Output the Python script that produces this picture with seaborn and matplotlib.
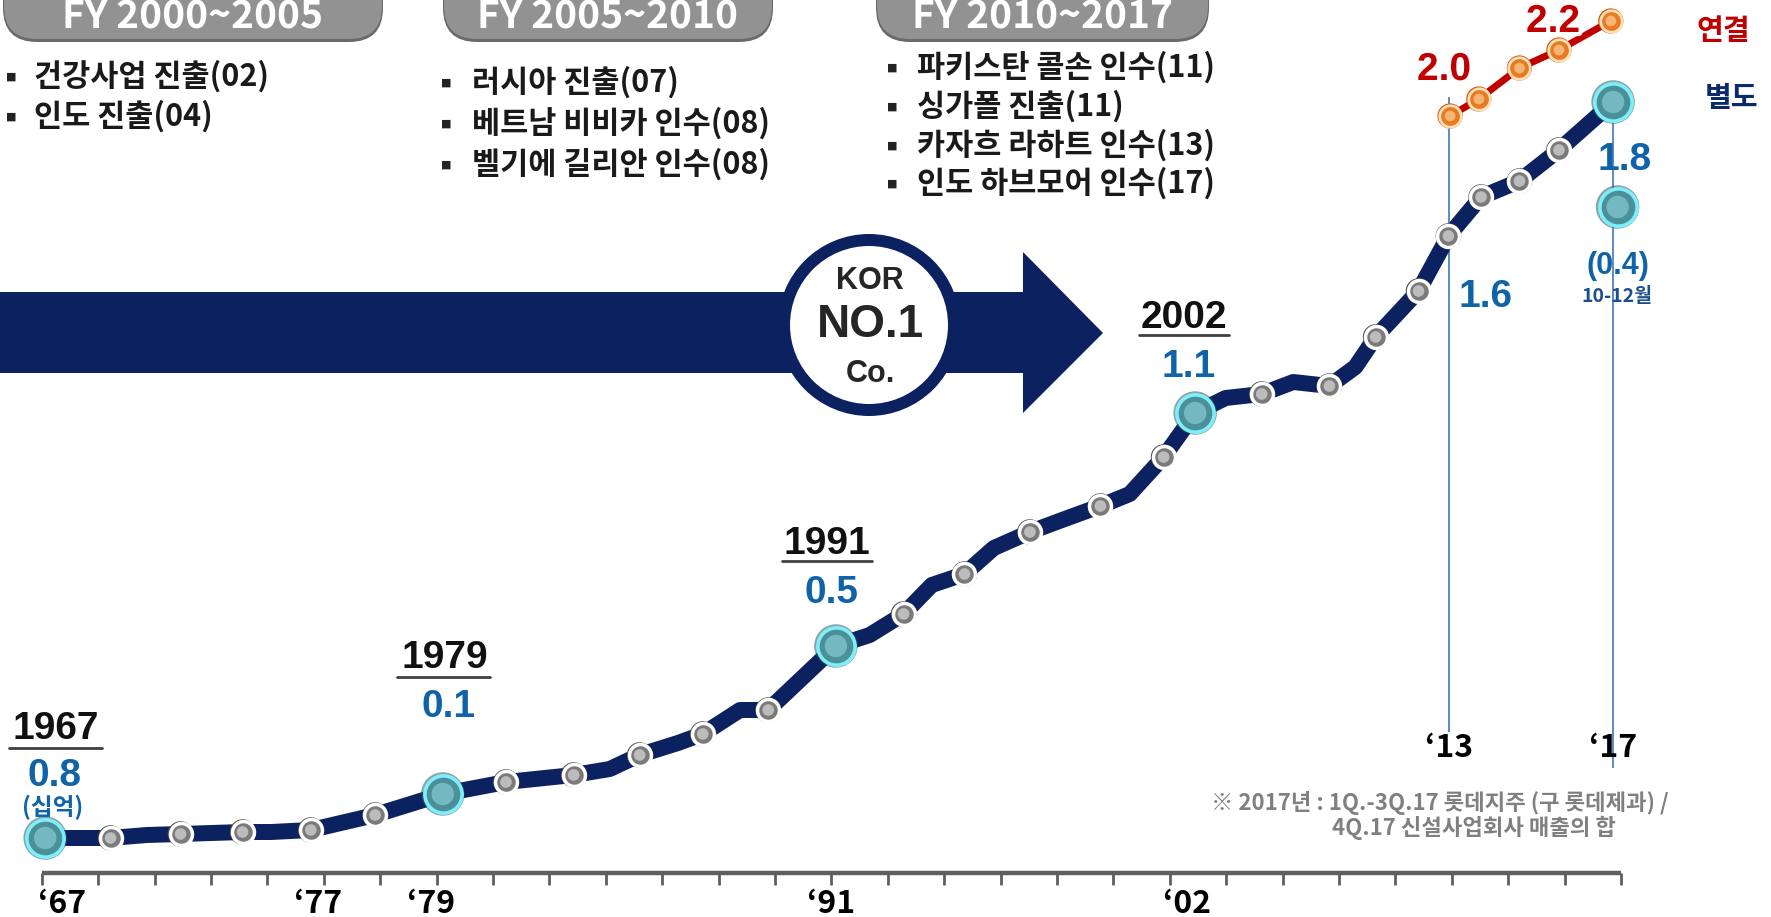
import numpy as np
import pandas as pd
import matplotlib.pyplot as plt
import seaborn as sns
from matplotlib.patches import FancyBboxPatch, Circle, Polygon, Rectangle
import matplotlib.patheffects as pe

# =========================================================
# 데이터 (x: 눈금 위치, y: 그래프 높이)
# =========================================================
# 별도 매출 곡선 경로
path_x = [0.06, 1.22, 1.86, 2.46, 3.56, 4.07, 4.77, 5.91, 7.11, 8.23, 9.43,
          10.07, 10.6, 11.28, 11.72, 12.38, 12.88, 14.08, 14.68, 15.28, 15.78,
          16.36, 16.88, 17.52, 18.09, 18.77, 19.29, 19.89, 20.45, 20.99, 21.63,
          22.19, 22.83, 23.29, 23.65, 24.41, 24.94, 25.52, 26.2, 26.9, 27.86]
path_y = [0.35, 0.35, 0.38, 0.39, 0.41, 0.41, 0.43, 0.58, 0.79, 0.91, 0.98,
          1.04, 1.18, 1.30, 1.39, 1.63, 1.63, 2.27, 2.38, 2.59, 2.88,
          2.99, 3.25, 3.41, 3.53, 3.67, 3.79, 4.16, 4.60, 4.75, 4.79,
          4.91, 4.87, 5.06, 5.36, 5.82, 6.37, 6.76, 6.92, 7.23, 7.71]
# 점 종류: big = 주요 연도, dot = 일반 연도, '' = 꺾임점
path_kind = ['big', 'dot', '', 'dot', 'dot', '', 'dot', 'dot', 'big', 'dot', 'dot',
             '', 'dot', '', 'dot', '', 'dot', 'big', '', 'dot', '',
             'dot', '', 'dot', '', 'dot', '', 'dot', 'big', '', 'dot',
             '', 'dot', '', 'dot', 'dot', 'dot', 'dot', 'dot', 'dot', 'big']

# 연결 매출
cons_x = [24.97, 25.48, 26.2, 26.9, 27.82]
cons_y = [7.57, 7.74, 8.05, 8.23, 8.52]

# 17년 10-12월
q4_x = [27.94]
q4_y = [6.66]

# 축 눈금
n_ticks = 29
tick_pos = [0.36, 4.9, 6.9, 14.0, 20.3]
tick_labels = ["‘67", "‘77", "‘79", "‘91", "‘02"]
guide_x = [24.95, 27.86]
guide_top = [7.76, 7.71]
guide_bottom = [1.41, 1.05]
guide_labels = ["‘13", "‘17"]

headers = ["FY 2000~2005", "FY 2005~2010", "FY 2010~2017"]
bullets = [["건강사업 진출(02)", "인도 진출(04)"],
           ["러시아 진출(07)", "베트남 비비카 인수(08)", "벨기에 길리안 인수(08)"],
           ["파키스탄 콜손 인수(11)", "싱가폴 진출(11)", "카자흐 라하트 인수(13)", "인도 하브모어 인수(17)"]]

df = pd.DataFrame({"x": path_x, "y": path_y, "kind": path_kind})

# =========================================================
# 그림
# =========================================================
sns.set_theme(style="white")
KR = ['Noto Sans CJK KR', 'DejaVu Sans']
ARIAL = ['Liberation Sans', 'Noto Sans CJK KR']
plt.rcParams['font.family'] = KR

NAVY = '#0b2160'
BLUE = '#0f63a8'
RED = '#c00000'

fig = plt.figure(figsize=(17.71, 9.17), dpi=100)
fig.patch.set_facecolor('white')

bg = fig.add_axes([0, 0, 1, 1])
bg.set_xlim(0, 1771)
bg.set_ylim(917, 0)
bg.axis('off')

ax = fig.add_axes([0, 0, 1, 1])
ax.set_xlim(-0.741, 30.66)
ax.set_ylim(-0.44, 8.73)
ax.axis('off')
ax.patch.set_alpha(0)

top = fig.add_axes([0, 0, 1, 1])
top.set_xlim(0, 1771)
top.set_ylim(917, 0)
top.axis('off')
top.patch.set_alpha(0)

# ---- 헤더 캡슐
pill_x = [(3, 383), (443, 773), (876, 1209)]
for (x0, x1), h in zip(pill_x, headers):
    bg.add_patch(FancyBboxPatch((x0, -40), x1 - x0, 82, boxstyle="round,pad=0,rounding_size=34",
                                fc='#6a6a6a', ec='none', zorder=1))
    bg.add_patch(FancyBboxPatch((x0 + 1, -40), x1 - x0 - 2, 79, boxstyle="round,pad=0,rounding_size=33",
                                fc='#929292', ec='none', zorder=2))
    top.text((x0 + x1) / 2, 17, h, ha='center', va='center', color='white', fontsize=28,
             fontweight='bold', family=KR)

# ---- 항목 목록
col_x = [(11, 34), (446, 472), (892, 917)]
col_y = [[76, 116], [82, 123, 164], [67, 106, 145, 183]]
for (bx, tx), ys, items in zip(col_x, col_y, bullets):
    for yy, item in zip(ys, items):
        top.text(bx, yy + 1, "■", ha='center', va='center', fontsize=8, color='#222222',
                 family=['DejaVu Sans'])
        top.text(tx, yy, item, ha='left', va='center', fontsize=22, fontweight='bold',
                 color='#1a1a1a', family=KR)

# ---- 화살표 + KOR NO.1
bg.add_patch(Rectangle((0, 292), 1024, 81, fc=NAVY, ec='none', zorder=1))
bg.add_patch(Polygon([(1023, 252), (1103, 333), (1023, 413)], closed=True, fc=NAVY, ec='none', zorder=1))
bg.add_patch(Circle((869, 325), 91, fc=NAVY, ec='none', zorder=2))
bg.add_patch(Circle((869, 325), 79, fc='white', ec='none', zorder=3))
top.text(870, 281, "KOR", ha='center', va='center', fontsize=22, fontweight='bold', family=ARIAL)
top.text(870, 325, "NO.1", ha='center', va='center', fontsize=33, fontweight='bold', family=ARIAL)
top.text(870, 374, "Co.", ha='center', va='center', fontsize=22, fontweight='bold', family=ARIAL)

# ---- 축
ax.hlines(0, 0, n_ticks - 1, color='#5f5f5f', lw=3.2, zorder=1)
ax.vlines(np.arange(n_ticks), -0.12, 0, color='#5f5f5f', lw=2, zorder=1)
for p, lab in zip(tick_pos, tick_labels):
    ax.text(p, -0.31, lab, ha='center', va='center', fontsize=23, fontweight='bold',
            family=KR, color='black')
for gx, gt, gb, lab in zip(guide_x, guide_top, guide_bottom, guide_labels):
    ax.vlines(gx, gb, gt, color='#4f81bd', lw=1.3, zorder=1)
    ax.text(gx, 1.25, lab, ha='center', va='center', fontsize=23, fontweight='bold',
            family=KR, color='black')

# ---- 곡선
sns.lineplot(data=df, x="x", y="y", color=NAVY, lw=11.5, sort=False, estimator=None,
             ax=ax, zorder=3, solid_joinstyle='round', solid_capstyle='round')
sns.lineplot(x=cons_x, y=cons_y, color=RED, lw=5, sort=False, estimator=None, ax=ax, zorder=3)

dots = df[df.kind == 'dot']
sns.scatterplot(data=dots, x="x", y="y", s=340, color='#505050', edgecolor='none', ax=ax, zorder=4)
sns.scatterplot(data=dots, x="x", y="y", s=250, color='#7a7a7a', edgecolor='white', linewidth=2.5, ax=ax, zorder=5)
sns.scatterplot(data=dots, x="x", y="y", s=70, color='#bcbcbc', edgecolor='none', ax=ax, zorder=6)

bigs = pd.concat([df[df.kind == 'big'][["x", "y"]], pd.DataFrame({"x": q4_x, "y": q4_y})])
sns.scatterplot(data=bigs, x="x", y="y", s=980, color='#2f5960', alpha=0.55, edgecolor='none', ax=ax, zorder=4)
sns.scatterplot(data=bigs, x="x", y="y", s=720, color='#4b8f98', edgecolor='#7eeefa', linewidth=2.6, ax=ax, zorder=5)
sns.scatterplot(data=bigs, x="x", y="y", s=260, color='#74b9c2', edgecolor='none', ax=ax, zorder=6)

sns.scatterplot(x=cons_x, y=cons_y, s=330, color='#d25400', edgecolor='none', ax=ax, zorder=4)
sns.scatterplot(x=cons_x, y=cons_y, s=240, color='#ea7a22', edgecolor='#fae0b8', linewidth=2, ax=ax, zorder=5)
sns.scatterplot(x=cons_x, y=cons_y, s=60, color='#f5b574', edgecolor='none', ax=ax, zorder=6)

# ---- 연도 라벨
years = [("1967", 56, 729, 9, 102, 748), ("1979", 445, 658, 397, 490, 677),
         ("1991", 827, 544, 782, 872, 561), ("2002", 1184, 318, 1139, 1229, 335)]
for txt, cx, cy, u0, u1, uy in years:
    top.text(cx, cy, txt, ha='center', va='center', fontsize=28, fontweight='bold',
             family=ARIAL, color='#111111')
    top.plot([u0, u1], [uy, uy], color='#404040', lw=2)

vals = [("0.8", 55, 776), ("0.1", 449, 707), ("0.5", 832, 593), ("1.1", 1189, 367),
        ("1.6", 1486, 297), ("1.8", 1625, 160)]
for txt, cx, cy in vals:
    top.text(cx, cy, txt, ha='center', va='center', fontsize=28, fontweight='bold',
             family=ARIAL, color=BLUE)
top.text(53, 807, "(십억)", ha='center', va='center', fontsize=17, fontweight='bold', color=BLUE, family=KR)
top.text(1618, 266, "(0.4)", ha='center', va='center', fontsize=22, fontweight='bold', color=BLUE, family=ARIAL)
top.text(1617, 296, "10-12월", ha='center', va='center', fontsize=14, fontweight='bold', color='#1f4e8c', family=KR)

halo = [pe.withStroke(linewidth=6, foreground='white')]
top.text(1444, 70, "2.0", ha='center', va='center', fontsize=28, fontweight='bold', color=RED,
         family=ARIAL, path_effects=halo)
top.text(1553, 22, "2.2", ha='center', va='center', fontsize=28, fontweight='bold', color=RED,
         family=ARIAL, path_effects=halo)
top.text(1723, 31, "연결", ha='center', va='center', fontsize=21, fontweight='bold', color=RED, family=KR)
top.text(1732, 98, "별도", ha='center', va='center', fontsize=21, fontweight='bold', color='#0b2a6b', family=KR)

# ---- 주석
top.text(1440, 803, "※ 2017년 : 1Q.-3Q.17 롯데지주 (구 롯데제과) /", ha='center', va='center',
         fontsize=16, fontweight='bold', color='#808080', family=KR)
top.text(1474, 828, "4Q.17 신설사업회사 매출의 합", ha='center', va='center',
         fontsize=16, fontweight='bold', color='#808080', family=KR)

fig.savefig("out.png", dpi=100)
